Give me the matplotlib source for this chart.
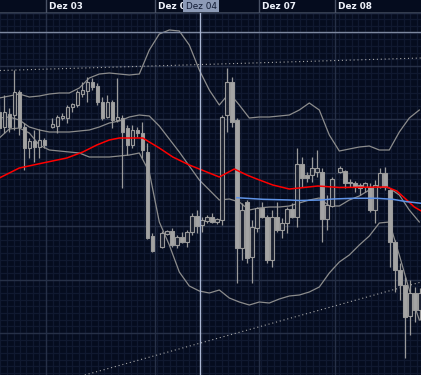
import matplotlib
matplotlib.use("Agg")
import matplotlib.pyplot as plt
import numpy as np
from matplotlib.patches import Rectangle

# --- data (price units, bar units on x) ---
SESSION_BARS = [10, 21, 35, 17]
SESSION_GAPS = [1.6, 1.9, 1.65]

opens = [263, 248, 261, 260, 283, 248, 227, 234, 228, 235,
         248, 249, 257, 257, 268, 270, 281, 284, 293, 289, 273, 258, 273, 255, 257, 247, 230, 245, 242, 223, 139,
         128, 141, 144, 130, 138, 133, 143, 159, 150, 154, 158, 153, 155, 260, 293, 255, 127, 173, 118, 147,
         167, 158, 115, 158, 145, 152, 166, 158, 211, 200, 200, 203, 203, 156, 169,
         203, 204, 193, 192, 190, 188, 188, 165, 188, 202, 185, 133, 105, 90, 59, 82, 65]
closes = [247, 263, 248, 283, 248, 227, 234, 228, 235, 230,
          251, 258, 259, 268, 271, 283, 285, 293, 288, 273, 257, 273, 255, 258, 243, 230, 245, 242, 225, 137, 124,
          142, 144, 130, 138, 133, 143, 159, 149, 155, 158, 153, 156, 258, 293, 253, 127, 165, 117, 148, 167,
          158, 115, 158, 145, 152, 166, 158, 211, 197, 197, 207, 207, 156, 170, 196,
          207, 192, 192, 188, 187, 192, 165, 190, 202, 188, 133, 105, 90, 58, 82, 65, 82]
highs = [270, 280, 267, 305, 285, 252, 237, 245, 246, 237,
         257, 260, 262, 270, 272, 285, 293, 298, 297, 292, 278, 280, 275, 297, 260, 250, 250, 248, 253, 232, 142,
         144, 145, 147, 140, 143, 145, 162, 165, 158, 160, 162, 157, 260, 307, 298, 257, 172, 175, 155, 168,
         173, 160, 165, 173, 157, 168, 172, 227, 218, 203, 218, 225, 207, 180, 198,
         209, 205, 196, 194, 192, 193, 192, 195, 207, 208, 186, 135, 112, 98, 95, 88, 87]
lows = [240, 242, 243, 245, 240, 205, 217, 213, 217, 227,
        247, 242, 255, 252, 263, 268, 278, 273, 285, 270, 255, 257, 247, 253, 187, 220, 227, 238, 217, 136, 123,
        127, 140, 128, 127, 132, 128, 140, 142, 143, 152, 152, 151, 150, 243, 248, 92, 115, 112, 92, 143,
        157, 112, 108, 143, 137, 142, 157, 148, 188, 193, 193, 198, 133, 145, 168,
        202, 187, 188, 183, 180, 183, 163, 152, 187, 185, 108, 83, 75, 17, 40, 53, 55]

# bollinger bands, read every 2 bars
bb_t = list(range(0, 85, 2))
bb_upper = [277, 279, 281, 278, 279, 281, 282, 282, 287, 297, 301, 302, 301, 300, 301, 325, 341, 345, 344, 330,
            305, 285, 270, 282, 270, 257, 258, 258, 259, 260, 265, 272, 265, 240, 224, 226, 228, 229, 225, 225,
            243, 257, 265]
bb_mid = [257, 258, 255, 248, 245, 243, 243, 243, 244, 245, 248, 252, 254, 258, 260, 259, 249, 236, 223, 209,
          195, 185, 175, 176, 173, 165, 167, 168, 168, 169, 172, 175, 177, 169, 169, 175, 179, 185, 189, 187,
          180, 165, 153]
bb_lower = [237, 246, 247, 242, 230, 225, 224, 223, 222, 218, 218, 218, 219, 220, 222, 203, 153, 130, 103, 89,
            84, 82, 85, 77, 73, 70, 73, 72, 76, 79, 80, 83, 88, 102, 113, 120, 130, 139, 152, 153,
            120, 85, 55]

red_t = [0, 4, 8.7, 13.5, 16.7, 19.5, 22, 24, 28.7, 30, 32, 34.7, 38, 41.5, 44, 47, 49.5, 51.5, 54.7, 58,
         60, 63.7, 68, 77.5, 79.5, 81.5, 83, 84.4]
red_ma = [197, 207, 212, 217, 223, 230, 235, 237, 237, 233, 227, 218, 210, 203, 198, 206, 200, 196, 190, 186,
          187, 189, 187.5, 188, 184, 175, 168, 164]

blue_t = [47.5, 50.1, 52.7, 58.1, 60.1, 64.1, 66.7, 70.7, 75.5, 78.7, 81.5, 84.4]
blue_ma = [177.3, 176.5, 175.7, 175, 174.5, 175, 176, 176.7, 176.7, 175.7, 173.3, 171.7]

trend_hi_t, trend_hi_p = [0.1, 84.4], [304.5, 317]
trend_lo_t, trend_lo_p = [17.1, 84.4], [0, 93]

day_t = [9.34, 31.14, 51.94, 67.14]
day_labels = ["Dez 03", "Dez 04", "Dez 07", "Dez 08"]
cursor_t, cursor_p = 40.14, 343
cursor_label = "Dez 04"

# --- style ---
BG = "#050c1e"
MINOR = "#101930"
MAJOR = "#263047"
CANDLE = "#9a9a9a"
BAND = "#8c8c8c"

XMIN, XMAX = 0.14, 84.34
YMIN, YMAX = 0, 362
MAJOR_STEP = 53.4

# bar positions from sessions
xs = []
pos = 0.0
for i, n in enumerate(SESSION_BARS):
    xs.extend(pos + np.arange(n))
    pos = xs[-1] + (SESSION_GAPS[i] if i < len(SESSION_GAPS) else 1)
xs = np.array(xs)

fig = plt.figure(figsize=(4.21, 3.75), dpi=100, facecolor=BG)
ax = fig.add_axes([0, 0, 1, 362 / 375])
top = fig.add_axes([0, 362 / 375, 1, 13 / 375], sharex=ax)

ax.set_facecolor(BG)
ax.set_xlim(XMIN, XMAX)
ax.set_ylim(YMIN, YMAX)
ax.axis("off")

# grid
for y in np.arange(42 - MAJOR_STEP, YMAX + 1, MAJOR_STEP / 8):
    ax.axhline(y, color=MINOR, lw=0.9, zorder=0)
for y in np.arange(42 - MAJOR_STEP, YMAX + 1, MAJOR_STEP):
    ax.axhline(y, color=MAJOR, lw=1.0, zorder=0.5)
for x in np.arange(day_t[0] - 1.3 * 8, XMAX, 1.3):
    ax.axvline(x, color=MINOR, lw=0.9, zorder=0)
for x in day_t:
    ax.axvline(x, color=MAJOR, lw=1.0, zorder=0.5)

# trend lines
ax.plot(trend_hi_t, trend_hi_p, color="#a8a8a8", lw=0.8, ls=(0, (1, 2.5)), zorder=2)
ax.plot(trend_lo_t, trend_lo_p, color="#a8a8a8", lw=0.8, ls=(0, (1, 2.5)), zorder=2)

# bands and averages
for band in (bb_upper, bb_mid, bb_lower):
    ax.plot(bb_t, band, color=BAND, lw=0.9, zorder=2)
ax.plot(red_t, red_ma, color="#ff0000", lw=1.1, zorder=4)
ax.plot(blue_t, blue_ma, color="#5f93e6", lw=1.1, zorder=4)

# candles
w = 0.7
for x, o, h, l, c in zip(xs, opens, highs, lows, closes):
    ax.vlines(x, l, h, color=CANDLE, lw=0.9, zorder=3)
    up = c >= o
    ax.add_patch(Rectangle((x - w / 2, min(o, c)), w, max(abs(c - o), 0.8),
                           facecolor="#1a2030" if up else "#a4a4a4", edgecolor=CANDLE,
                           lw=0.8, zorder=3.5))

# cursor
ax.axhline(cursor_p, color="#7d889f", lw=1.0, zorder=5)
ax.axvline(cursor_t, color="#aab6d2", lw=1.0, zorder=5)

# top date bar
top.set_facecolor("#040a18")
top.set_ylim(0, 1)
top.axis("off")
top.axhline(0.02, color="#3d4658", lw=1.2)
for x, lab in zip(day_t, day_labels):
    top.axvline(x, color="#4a5366", lw=1.0)
    top.text(x + 0.6, 0.48, lab, color="#eef2fa", fontsize=6.4, fontweight="bold",
             va="center", ha="left", clip_on=True)
top.add_patch(Rectangle((36.68, 0.05), 7.3, 0.95, facecolor="#8d9bb7", edgecolor="none", zorder=5))
top.text(cursor_t + 0.2, 0.48, cursor_label, color="#101a33", fontsize=6.4, va="center",
         ha="center", zorder=6)

fig.savefig("out.png", dpi=100, facecolor=BG)
